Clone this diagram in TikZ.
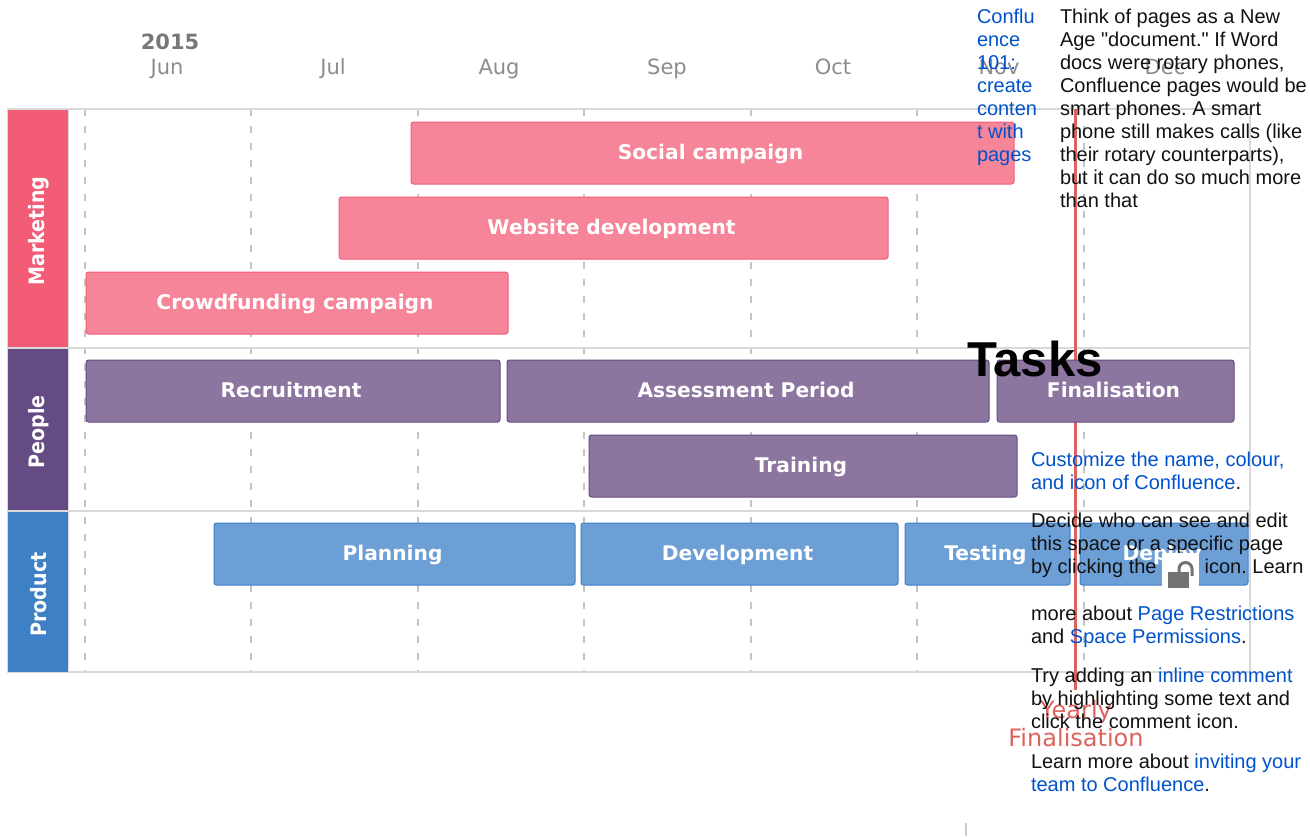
\documentclass[tikz,border=0pt]{standalone}
\usepackage{fontspec}
\setmainfont{Liberation Sans}[Ligatures=TeXOff]
\newfontfamily\chartfont{DejaVu Sans}
\newfontfamily\lanefont{DejaVu Sans Condensed}
\usetikzlibrary{positioning}

\begin{document}
\frenchspacing
\begin{tikzpicture}[x=1pt,y=-1pt]
  % some colors
  \definecolor{market}{HTML}{F25C75}
  \definecolor{marketbar}{HTML}{F68599}
  \definecolor{people}{HTML}{644B83}
  \definecolor{peoplebar}{HTML}{8C759F}
  \definecolor{product}{HTML}{3D80C6}
  \definecolor{productbar}{HTML}{6C9FD6}
  \definecolor{frameline}{HTML}{D9D9D9}
  \definecolor{dashline}{HTML}{C4C4C4}
  \definecolor{monthtext}{HTML}{8C8C8C}
  \definecolor{yearmark}{HTML}{DC625E}
  \definecolor{links}{HTML}{0052CC}
  \definecolor{bodytext}{HTML}{111111}
  \definecolor{ticktext}{HTML}{C5CCD8}
  % some styles
  \tikzset{
    lane/.style={
      minimum width=61,
      inner sep=0,
      outer sep=0,
      fill=#1,
      draw=frameline,
      line width=1,
    },
    lanelabel/.style={
      rotate=90,
      text=white,
      font=\lanefont\fontsize{21.2}{24}\selectfont\bfseries,
    },
    bar/.style={
      minimum height=62,
      inner sep=0,
      outer sep=0,
      text height=13,
      text depth=0,
      fill=#1bar,
      draw=#1,
      line width=1,
      rounded corners=2.5,
      text=white,
      font=\chartfont\fontsize{20.2}{24}\selectfont\bfseries,
    },
    monthlabel/.style={
      anchor=base,
      text=monthtext,
      font=\chartfont\fontsize{21}{25}\selectfont,
    },
    para/.style={
      anchor=north west,
      inner sep=0,
      outer sep=0,
      align=left,
      text=bodytext,
      font=\fontsize{20}{23}\selectfont,
    },
    marklabel/.style={
      anchor=base,
      text=yearmark,
      font=\chartfont\fontsize{24}{27}\selectfont,
    },
  }
  \newcommand{\lnk}[1]{\textcolor{links}{#1}}
  \useasboundingbox (0,0) rectangle (1310,836);
  % dashed month lines
  \foreach \xpos in {85,251,418,584,751,917,1084} {
    \draw[dashline,line width=1.3,dash pattern=on 7pt off 10pt] (\xpos,109) -- (\xpos,672);
  }
  % frame of the lanes
  \draw[frameline,line width=2] (7,109) -- (1250,109) -- (1250,672) -- (7,672);
  \draw[frameline,line width=2] (7,347.5) -- (1250,347.5);
  \draw[frameline,line width=2] (7,510.5) -- (1250,510.5);
  % lanes
  \foreach \name/\ya/\yb/\col in {Marketing/109/347/market,People/348/510/people,Product/511/672/product} {
    \node[lane=\col,minimum height={\yb-\ya}] (lane-\name) at (37.5,{(\ya+\yb)/2}) {};
    \node[lanelabel] (text-\name) at ([shift={(1,3)}]lane-\name.center) {\name};
  }
  % months
  \foreach \name/\xpos in {Jun/167,Jul/333,Aug/499,Sep/667,Oct/833,Nov/999,Dec/1165} {
    \node[monthlabel] (m-\name) at (\xpos,74.5) {\name};
  }
  \node[monthlabel,text=monthtext!85!black,font=\chartfont\fontsize{21}{25}\selectfont\bfseries] (year) at (170,49.5) {2015};
  % yearly marker, under the bars
  \coordinate (mark-top) at (1075.5,109);
  \coordinate (mark-end) at (1075.5,690);
  \draw[yearmark,line width=3] (mark-top) -- (mark-end);
  % tasks
  \foreach \id/\xa/\xb/\ypos/\col/\txt in {
    social/411/1014/153/market/Social campaign,
    website/339/888/228/market/Website development,
    crowd/86/508/303/market/Crowdfunding campaign,
    recruit/86/500/391/people/Recruitment,
    assess/507/989/391/people/Assessment Period,
    final/997/1234/391/people/Finalisation,
    train/589/1017/466/people/Training,
    plan/214/575/554/product/Planning,
    dev/581/898/554/product/Development,
    test/905/1070/554/product/Testing,
    deploy/1080/1248/554/product/Deploy} {
    \node[bar=\col,minimum width={\xb-\xa}] (\id) at ({(\xa+\xb)/2},\ypos) {\txt\kern4pt};
  }
  \node[marklabel] (mark-a) at (1076,718) {Yearly};
  \node[marklabel] (mark-b) at (1076,746) {Finalisation};
  % text on top of the chart
  \node[para] (intro) at (977,9.5) {\lnk{Conflu}\\\lnk{ence}\\\lnk{101:}\\\lnk{create}\\\lnk{conten}\\\lnk{t with}\\\lnk{pages}};
  \node[para] (think) at (1060,9.5) {Think of pages as a New\\Age "document." If Word\\docs were rotary phones,\\Confluence pages would be\\smart phones. A smart\\phone still makes calls (like\\their rotary counterparts),\\but it can do so much more\\than that};
  \node[anchor=base west,inner sep=0,font=\bfseries\fontsize{49}{52}\selectfont] (tasks) at (967,376) {Tasks};
  \node[para] (custom) at (1031,451.5) {\lnk{Customize the name, colour,}\\\lnk{and icon of Confluence}.};
  \node[para] (decide) at (1031,512.5) {Decide who can see and edit\\this space or a specific page\\by clicking the\hspace{48pt}icon. Learn};
  % lock icon
  \node[fill=white,inner sep=0,outer sep=0,minimum width=37,minimum height=37] (lock) at (1180.5,571.5) {};
  \fill[gray!90!black] (1168,572) rectangle (1189,588);
  \draw[gray!90!black,line width=3] (1179,572) -- (1179,569) arc[start angle=180,end angle=360,radius=6.5] -- (1192,576);
  \node[para] (more) at (1031,605.5) {more about \lnk{Page Restrictions}\\and \lnk{Space Permissions}.};
  \node[para] (try) at (1031,667.5) {Try adding an \lnk{inline comment}\\by highlighting some text and\\click the comment icon.};
  \node[para] (learn) at (1031,753.5) {Learn more about \lnk{inviting your}\\\lnk{team to Confluence}.};
  % small tick at the bottom
  \fill[ticktext] (965,823) rectangle (967,836);
\end{tikzpicture}
\end{document}
